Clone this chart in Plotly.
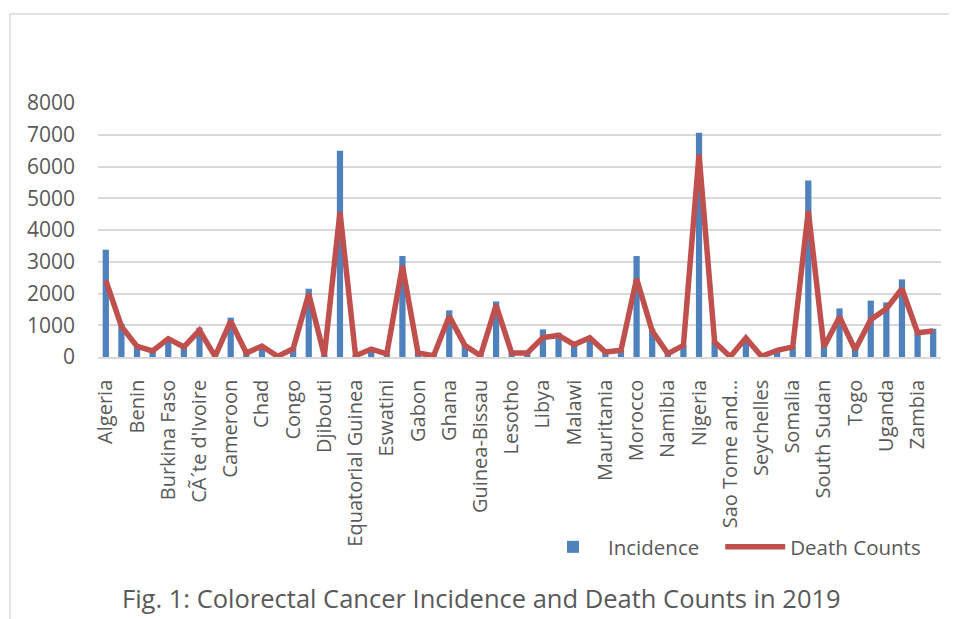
import plotly.graph_objects as go

countries = [
    "Algeria", "Angola", "Benin", "Botswana", "Burkina Faso", "Burundi",
    "CÃ´te d'Ivoire", "Cabo Verde", "Cameroon", "Central African Republic",
    "Chad", "Comoros", "Congo", "Democratic Republic of the Congo", "Djibouti",
    "Egypt", "Equatorial Guinea", "Eritrea", "Eswatini", "Ethiopia", "Gabon",
    "Gambia", "Ghana", "Guinea", "Guinea-Bissau", "Kenya", "Lesotho", "Liberia",
    "Libya", "Madagascar", "Malawi", "Mali", "Mauritania", "Mauritius", "Morocco",
    "Mozambique", "Namibia", "Niger", "Nigeria", "Rwanda",
    "Sao Tome and Principe", "Senegal", "Seychelles", "Sierra Leone", "Somalia",
    "South Africa", "South Sudan", "Sudan", "Togo", "Tunisia", "Uganda",
    "United Republic of Tanzania", "Zambia", "Zimbabwe",
]

incidence = [3380, 1050, 400, 200, 500, 330, 925, 20, 1240, 150, 380, 20, 280,
             2150, 40, 6500, 40, 260, 100, 3180, 150, 40, 1470, 400, 40, 1750,
             130, 130, 870, 765, 420, 540, 155, 220, 3180, 890, 105, 380, 7060,
             500, 10, 560, 20, 230, 330, 5560, 340, 1530, 250, 1775, 1720, 2445,
             790, 890]

death_counts = [2410, 965, 335, 190, 577, 315, 840, 20, 1130, 125, 346, 20, 260,
                1990, 40, 4565, 40, 250, 100, 2865, 125, 40, 1280, 367, 40, 1625,
                125, 125, 610, 680, 390, 610, 155, 210, 2465, 820, 105, 367, 6380,
                470, 10, 600, 20, 210, 315, 4600, 315, 1260, 230, 1175, 1520, 2150,
                765, 820]

tick_vals = countries[::2]
tick_text = [("Sao Tome and…" if c == "Sao Tome and Principe" else c) for c in tick_vals]

caption = "Fig. 1: Colorectal Cancer Incidence and Death Counts in 2019"

# page has an 8px body margin; size the figure so it fills the window
OFF = 8
W, H = 957 - OFF, 619 - OFF
L = 98 - OFF
R = 957 - 941
T = 103 - OFF
B = 619 - 357
pw, ph = W - L - R, H - T - B

def px(x):  # window pixel -> paper x
    return (x - OFF - L) / pw

def py(y):  # window pixel -> paper y
    return ((H - B) - (y - OFF)) / ph

FONT = "Open Sans"
GRAY = "#595959"
NBSP = "\u00a0"

fig = go.Figure()
fig.add_trace(go.Bar(x=countries, y=incidence, name="Incidence" + NBSP * 3,
                     marker=dict(color="#4F81BD", line=dict(width=0))))
fig.add_trace(go.Scatter(x=countries, y=death_counts, name="Death Counts",
                         mode="lines", line=dict(color="#C0504D", width=5.5)))

fig.update_layout(
    width=W, height=H,
    margin=dict(l=L, r=R, t=T, b=B),
    paper_bgcolor="white", plot_bgcolor="white",
    bargap=0.6,
    font=dict(family=FONT, color=GRAY, size=20),
    showlegend=True,
    legend=dict(orientation="h", x=px(538), y=py(547), xanchor="left", yanchor="middle",
                font=dict(size=20.5, color=GRAY), bgcolor="rgba(0,0,0,0)",
                itemwidth=60),
    xaxis=dict(
        type="category", tickmode="array", tickvals=tick_vals, ticktext=tick_text,
        tickangle=-90, showgrid=False, showline=True, linecolor="#d9d9d9", linewidth=1.5,
        ticks="", ticklabelstandoff=13, tickfont=dict(size=20, color=GRAY),
        range=[-0.5, len(countries) - 0.5],
    ),
    yaxis=dict(
        range=[0, 8000], dtick=1000, showgrid=True, gridcolor="#d9d9d9", gridwidth=1.5,
        zeroline=False, showline=False, ticks="", ticklabelstandoff=22,
        tickfont=dict(size=21, color=GRAY),
    ),
    shapes=[dict(type="rect", xref="paper", yref="paper",
                 x0=px(10), x1=px(1000), y0=py(700), y1=py(14),
                 line=dict(color="#d9d9d9", width=1.5), fillcolor="rgba(0,0,0,0)",
                 layer="below")],
    annotations=[dict(text=caption, xref="paper", yref="paper", x=px(481), y=py(598),
                      xanchor="center", yanchor="middle", showarrow=False,
                      font=dict(family=FONT, size=25.5, color=GRAY))],
)

fig.write_html("out.html")
